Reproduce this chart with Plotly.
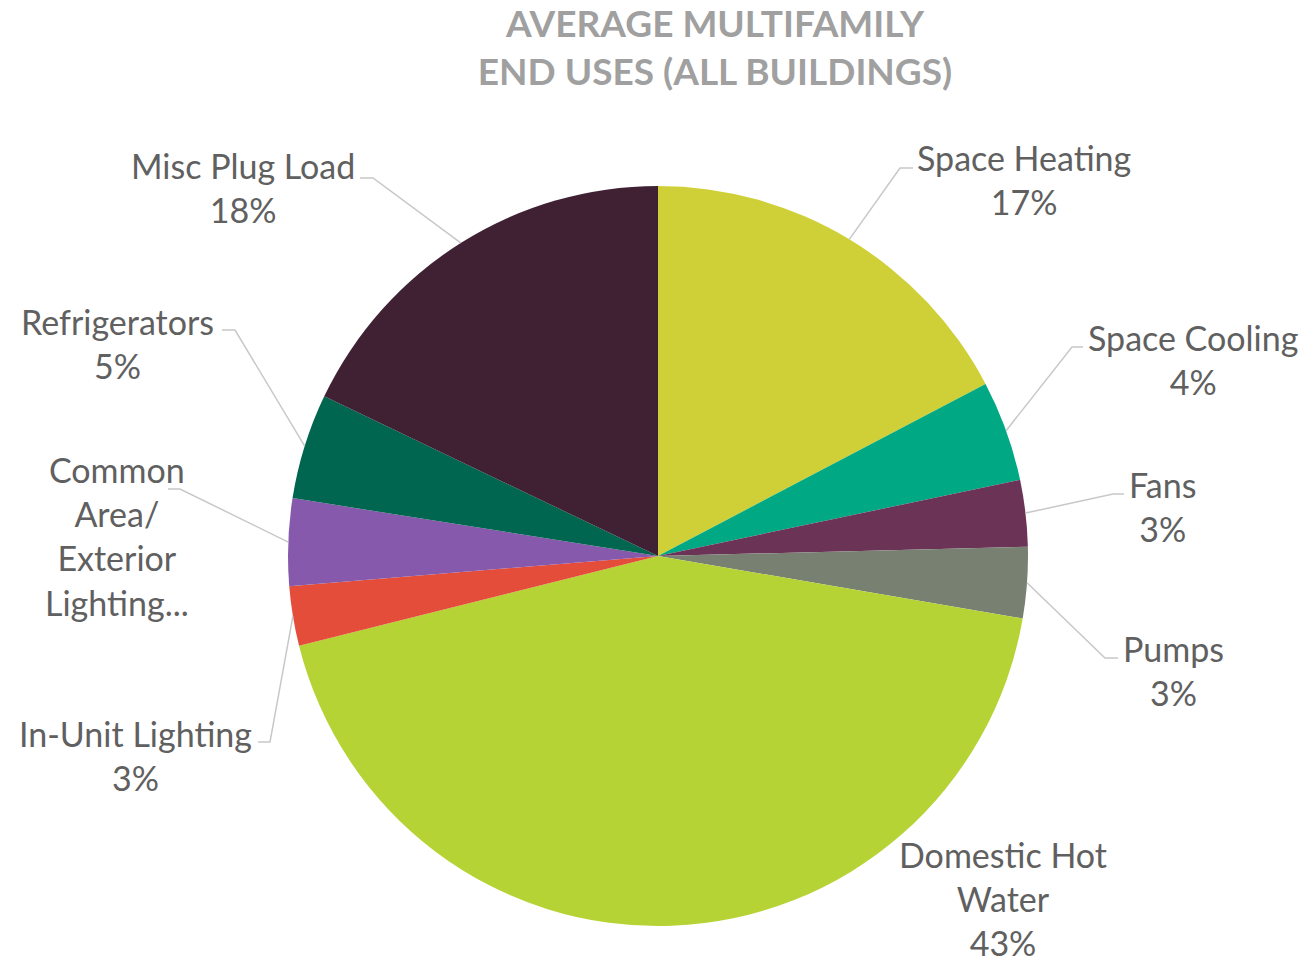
import math
import plotly.graph_objects as go

categories = ["Space Heating", "Space Cooling", "Fans", "Pumps", "Domestic Hot Water",
              "In-Unit Lighting", "Common Area/ Exterior Lighting", "Refrigerators", "Misc Plug Load"]
values = [17.3, 4.4, 2.9, 3.1, 43.4, 2.6, 3.8, 4.6, 17.9]
display_labels = ["Space Heating", "Space Cooling", "Fans", "Pumps", "Domestic Hot<br>Water",
                  "In-Unit Lighting", "Common<br>Area/<br>Exterior<br>Lighting...", "Refrigerators", "Misc Plug Load"]
show_percent = [True, True, True, True, True, True, False, True, True]
colors = ["#CFD038", "#00A983", "#6B3356", "#788072", "#B5D334",
          "#E44D3A", "#8659AC", "#00664F", "#3F2133"]

W, H = 1307, 966
CX, CY, R = 658, 556, 370

# label text-block centres (px) and leader-line elbows (px), layout only
label_pos = [(1024, 179), (1193, 359), (1162, 506), (1173, 670), (1003, 898),
             (135, 755), (117, 536), (117, 343), (243, 188)]
elbows = [((900, 168), (913, 168)), ((1072, 347), (1083, 347)), ((1113, 494), (1124, 494)),
          ((1105, 658), (1118, 658)), None,
          ((270, 742), (258, 742)), ((180, 489), (168, 489)), ((235, 330), (222, 330)),
          ((373, 178), (360, 178))]

FONT = "Lato, Carlito, Calibri, sans-serif"


def px(x, y):
    return x / W, 1 - y / H


fig = go.Figure()
x0, y0 = px(CX - R, CY + R)
x1, y1 = px(CX + R, CY - R)
fig.add_trace(go.Pie(
    labels=categories, values=values, sort=False, direction="clockwise", rotation=0,
    marker=dict(colors=colors, line=dict(width=0)), textinfo="none", hoverinfo="label+percent",
    domain=dict(x=[x0, x1], y=[y0, y1]), showlegend=False,
))

total = sum(values)
cum = 0
annotations = []
shapes = []
for i, v in enumerate(values):
    mid = (cum + v / 2) / total * 2 * math.pi
    cum += v
    ex = CX + R * math.sin(mid)
    ey = CY - R * math.cos(mid)
    pct = round(v / total * 100)
    lx, ly = label_pos[i]
    xa, ya = px(lx, ly)
    text = display_labels[i] + (f"<br>{pct}%" if show_percent[i] else "")
    annotations.append(dict(
        x=xa, y=ya, xref="paper", yref="paper", showarrow=False,
        text=text, align="center",
        font=dict(family=FONT, size=34, color="#606060"),
        xanchor="center", yanchor="middle",
    ))
    if elbows[i] is not None:
        (bx, by), (hx, hy) = elbows[i]
        pts = [px(ex, ey), px(bx, by), px(hx, hy)]
        path = "M {} {} L {} {} L {} {}".format(*[c for p in pts for c in p])
        shapes.append(dict(type="path", xref="paper", yref="paper", path=path,
                           line=dict(color="#C8C8C8", width=1.5)))

fig.update_layout(
    width=W, height=H, margin=dict(l=0, r=0, t=0, b=0),
    paper_bgcolor="white", plot_bgcolor="white",
    title=dict(text="<b>AVERAGE MULTIFAMILY<br>END USES (ALL BUILDINGS)</b>",
               x=715 / W, xanchor="center", y=1 - 37 / H, yanchor="middle",
               font=dict(family=FONT, size=37, color="#A0A0A0")),
    annotations=annotations, shapes=shapes,
)
fig.write_html("out.html", config={"displayModeBar": False},
               post_script="document.body.style.margin='0';")
